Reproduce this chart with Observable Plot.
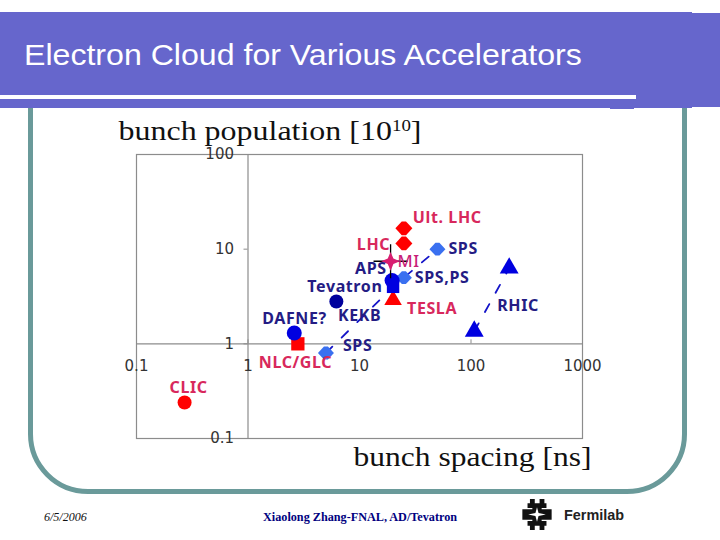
<!DOCTYPE html>
<html><head><meta charset="utf-8">
<script src="https://cdn.jsdelivr.net/npm/d3@7"></script>
<script src="https://cdn.jsdelivr.net/npm/@observablehq/plot@0.6"></script>
<style>
html,body{margin:0;padding:0;background:#fff;width:720px;height:540px;overflow:hidden}
#page{position:relative;width:720px;height:540px}
.abs{position:absolute}
#frame{left:27.5px;top:40px;width:649px;height:444px;border:5px solid #6a9a9a;border-radius:60px}
#hdr1{left:0;top:12px;width:692px;height:96px;background:#6666cc}
#hdr2{left:692px;top:13px;width:28px;height:94px;background:#6666cc}
#hdr3{left:610px;top:100px;width:24px;height:9px;background:#6666cc}
#rule{left:0;top:95px;width:636px;height:3.5px;background:#fff}
#title{left:24px;top:38px;color:#fff;font:30px "Liberation Sans",sans-serif;white-space:nowrap;transform-origin:left center;transform:scaleX(1.07)}
#date{left:44px;top:510px;font:italic 12px "Liberation Serif",serif;color:#111}
#author{left:263px;top:510px;font:bold 12.2px "Liberation Serif",serif;color:#000080;white-space:nowrap}
#lab{left:564px;top:507px;font:bold 14.4px "Liberation Sans",sans-serif;color:#222}
#chart{left:0;top:0}
.lbl text{letter-spacing:.6px}
</style></head><body>
<div id="page">
<div class="abs" id="frame"></div>
<div class="abs" id="chart"></div>
<div class="abs" id="hdr1"></div><div class="abs" id="hdr2"></div><div class="abs" id="hdr3"></div>
<div class="abs" id="rule"></div>
<div class="abs" id="title">Electron Cloud for Various Accelerators</div>
<div class="abs" id="date">6/5/2006</div>
<div class="abs" id="author">Xiaolong Zhang-FNAL, AD/Tevatron</div>
<svg class="abs" style="left:522px;top:499px" width="30" height="31" viewBox="0 0 85 90"><path fill="#111" d="M22 0h14v12h14V0h14v12h6v14H56v4h29v15H0V30h29v-4H15V12h7zM0 45h85v15H56v4h14v14h-6v12H50V78H36v12H22V78h-7V64h14v-4H0z"/><path fill="#fff" d="M42.500 24L47 40.500 68 45 47 49.500 42.500 66 38 49.500 17 45 38 40.500z"/></svg>
<div class="abs" id="lab">Fermilab</div>
</div>
<script>
const xTicks = [0.1, 1, 10, 100, 1000];
const yTicks = [0.1, 1, 10, 100];

const redCircle = [{name:"CLIC", x:0.27, y:0.24}];
const redDiamonds = [{name:"Ult. LHC", x:25, y:16.6},{name:"LHC", x:25, y:11.5}];
const redTriangle = [{name:"TESLA", x:20, y:2.9}];
const redSquare = [{name:"NLC/GLC", x:2.8, y:1}];
const miPoint = [{name:"MI", x:19, y:7.45}];
const spsPoints = [{name:"SPS", x:5, y:0.8},{name:"SPS,PS", x:25, y:5},{name:"SPS", x:50, y:10}];
const apsPoint = [{name:"APS", x:19.6, y:4.66}];
const kekbPoint = [{name:"KEKB", x:20, y:4}];
const tevatronPoint = [{name:"Tevatron", x:6.2, y:2.8}];
const dafnePoint = [{name:"DAFNE?", x:2.6, y:1.3}];
const rhicPoints = [{name:"RHIC", x:107, y:1.36},{name:"RHIC", x:220, y:6.3}];
const spsLine = [{x:5,y:0.8},{x:20,y:4},{x:25,y:5},{x:50,y:10}];

const RED = "#ff0000", BLUE = "#0000e0", NAVY = "#00009c", LIGHT = "#3a70f0";
const REDTXT = "#d8285c", BLUETXT = "#241c84", GRID = "#8c8c8c", TICKTXT = "#333";
const star4 = {draw(c, size){const r=Math.sqrt(size/Math.PI)*1.25,q=r*0.3;
  c.moveTo(0,-r);c.lineTo(q,-q);c.lineTo(r,0);c.lineTo(q,q);c.lineTo(0,r);c.lineTo(-q,q);c.lineTo(-r,0);c.lineTo(-q,-q);c.closePath();}};
const blob = {draw(c, size){const r=Math.sqrt(size/Math.PI),w=r,h=r*0.8;
  c.moveTo(-w,0);c.lineTo(-w*0.25,-h);c.lineTo(w*0.25,-h);c.lineTo(w,0);c.lineTo(w*0.25,h);c.lineTo(-w*0.25,h);c.closePath();}};

const lbl = (d, i, dx, color, extra={}) => Plot.text([d], {x:"x", y:"y", text:"name", textAnchor:"start", dx, dy:extra.dy||0,
  fill:color, fontSize:extra.size||16, fontWeight:extra.weight||700, fontFamily:'"Noto Sans",sans-serif', className:"lbl"});

const chart = Plot.plot({
  width:720, height:540,
  marginLeft:136, marginRight:138, marginTop:154, marginBottom:102,
  style:{background:"transparent", overflow:"visible"},
  x:{type:"log", domain:[0.1,1000]},
  y:{type:"log", domain:[0.1,100]},
  marks:[
    Plot.frame({stroke:GRID, strokeWidth:1.2}),
    Plot.ruleX([1], {stroke:GRID, strokeWidth:1.2}),
    Plot.ruleY([1], {stroke:GRID, strokeWidth:1.2}),
    Plot.axisX(xTicks, {y:1, anchor:"bottom", tickSize:-4, tickPadding:21, tickFormat:d=>String(d), label:null, stroke:GRID,
      fontSize:15, fontFamily:'"DejaVu Sans",sans-serif', color:TICKTXT, fill:TICKTXT}),
    Plot.axisY(yTicks, {x:1, anchor:"left", tickSize:4, tickPadding:10, tickFormat:d=>String(d), label:null, stroke:GRID,
      fontSize:15, fontFamily:'"DejaVu Sans",sans-serif', color:TICKTXT, fill:TICKTXT}),
    Plot.line(spsLine, {x:"x", y:"y", stroke:"#1414c8", strokeWidth:1.8, strokeDasharray:"9 13"}),
    Plot.line(rhicPoints, {x:"x", y:"y", stroke:"#1414c8", strokeWidth:1.8, strokeDasharray:"9 13"}),
    Plot.dot(redCircle, {x:"x", y:"y", r:7, fill:RED, symbol:"circle"}),
    Plot.dot(redDiamonds, {x:"x", y:"y", r:8.5, fill:RED, symbol:blob}),
    Plot.dot(redTriangle, {x:"x", y:"y", r:6.5, fill:RED, symbol:"triangle"}),
    Plot.dot(redSquare, {x:"x", y:"y", r:7.5, fill:RED, symbol:"square"}),
    Plot.dot(spsPoints, {x:"x", y:"y", r:8, fill:LIGHT, symbol:blob}),
    Plot.dot(tevatronPoint, {x:"x", y:"y", r:7, fill:NAVY, symbol:"circle"}),
    Plot.dot(dafnePoint, {x:"x", y:"y", r:7.5, fill:BLUE, symbol:"circle"}),
    Plot.dot(apsPoint, {x:"x", y:"y", r:7.5, fill:BLUE, symbol:"circle"}),
    Plot.dot(kekbPoint, {x:"x", y:"y", r:7, fill:BLUE, symbol:"square"}),
    Plot.dot(rhicPoints, {x:"x", y:"y", r:7, fill:BLUE, symbol:"triangle"}),
    Plot.dot(miPoint, {x:"x", y:"y", r:11, stroke:"#000", strokeWidth:1.3, symbol:"plus"}),
    Plot.dot(miPoint, {x:"x", y:"y", r:7.5, fill:"#d81e70", symbol:star4}),
    lbl(redCircle[0],0,-15,REDTXT,{dy:-15}),
    lbl(redDiamonds[0],0,9,REDTXT,{dy:-10}),
    lbl(redDiamonds[1],0,-47,REDTXT,{dy:1}),
    lbl(redTriangle[0],0,14,REDTXT,{dy:9}),
    lbl(redSquare[0],0,-39,REDTXT,{dy:19}),
    lbl(miPoint[0],0,7,"#c81e78",{weight:500, size:16.5}),
    lbl(spsPoints[0],0,17,BLUETXT,{dy:-7}),
    lbl(spsPoints[1],0,11,BLUETXT),
    lbl(spsPoints[2],0,11,BLUETXT),
    lbl(apsPoint[0],0,-37,BLUETXT,{dy:-12}),
    lbl(kekbPoint[0],0,-55,BLUETXT,{dy:29}),
    lbl(tevatronPoint[0],0,-29,BLUETXT,{dy:-15}),
    lbl(dafnePoint[0],0,-32,BLUETXT,{dy:-14}),
    lbl(rhicPoints[0],0,23,BLUETXT,{dy:-25}),
    Plot.text(["bunch population"], {frameAnchor:"top-left", text:d=>d, textAnchor:"start", lineAnchor:"middle", dx:-18, dy:-23,
      fontSize:27, fontFamily:'"Liberation Serif",serif', fill:"#111", className:"ttl-pop"}),
    Plot.text(["bunch spacing [ns]"], {frameAnchor:"bottom-right", text:d=>d, textAnchor:"end", lineAnchor:"middle", dx:9, dy:19,
      fontSize:27, fontFamily:'"Liberation Serif",serif', fill:"#111", className:"ttl-sp"})
  ]
});
document.getElementById("chart").appendChild(chart);
// The mark draws the text; the superscript and the reference's wide stretch are applied here.
const pop = d3.select(chart).select(".ttl-pop text");
pop.text(null);
pop.append("tspan").text("bunch population [10");
pop.append("tspan").attr("dy",-9).attr("font-size",16).text("10");
pop.append("tspan").attr("dy",9).text("]");
pop.attr("textLength",303).attr("lengthAdjust","spacingAndGlyphs");
d3.select(chart).select(".ttl-sp text").attr("textLength",238).attr("lengthAdjust","spacingAndGlyphs");
</script>
</body></html>
